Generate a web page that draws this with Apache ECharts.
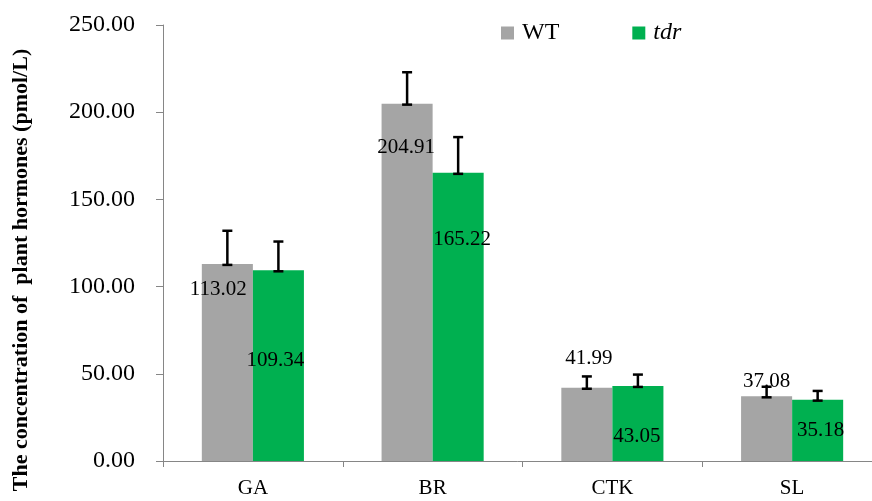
<!DOCTYPE html>
<html>
<head>
<meta charset="utf-8">
<script src="https://cdn.jsdelivr.net/npm/echarts@6/dist/echarts.min.js"></script>
<style>
  html, body { margin: 0; padding: 0; background: #fff; }
  #chart { width: 872px; height: 501px; }
</style>
</head>
<body>
<div id="chart"></div>
<script>
// 数据
const categories = ['GA', 'BR', 'CTK', 'SL'];
const wtValues = [113.02, 204.91, 41.99, 37.08];
const tdrValues = [109.34, 165.22, 43.05, 35.18];
const wtErr = [19, 18, 6.5, 5.5];
const tdrErr = [16.5, 20.5, 6.5, 5];
const yTicks = [0, 50, 100, 150, 200, 250];

// label offsets (style only)
const wtLabelOffset = [[-9, 41], [-1, 59], [2, -14], [0, 1]];
const tdrLabelOffset = [[-3, 106], [4, 82], [-1, 66], [3, 46]];

const FONT = '"Liberation Serif", "Times New Roman", serif';
const BAR_RATIO = 0.284;

const chart = echarts.init(document.getElementById('chart'));

const barData = (vals, offs) => vals.map((v, i) => ({
  value: v,
  label: { offset: offs[i] }
}));

// 误差线
const errSeries = (vals, errs, side, name) => ({
  type: 'custom',
  name: name + '_err',
  z: 5,
  silent: true,
  data: vals.map((v, i) => [i, v, v + errs[i]]),
  encode: { x: 0, y: [1, 2] },
  renderItem: (params, api) => {
    const band = api.size([1, 0])[0];
    const dx = side * band * BAR_RATIO / 2;
    const lo = api.coord([api.value(0), api.value(1)]);
    const hi = api.coord([api.value(0), api.value(2)]);
    const x = lo[0] + dx;
    const cap = 5;
    const style = { stroke: '#000', lineWidth: 2.5 };
    return {
      type: 'group',
      children: [
        { type: 'line', shape: { x1: x, y1: lo[1] + 1, x2: x, y2: hi[1] }, style },
        { type: 'line', shape: { x1: x - cap, y1: hi[1], x2: x + cap, y2: hi[1] }, style },
        { type: 'line', shape: { x1: x - cap, y1: lo[1] + 1, x2: x + cap, y2: lo[1] + 1 }, style }
      ]
    };
  }
});

const option = {
  animation: false,
  backgroundColor: '#fff',
  grid: { left: 163, right: -10, top: 25, bottom: 40, containLabel: false, outerBoundsMode: 'none' },
  graphic: [{
    type: 'text',
    x: 21,
    y: 270,
    rotation: Math.PI / 2,
    style: {
      text: 'The concentration of  plant hormones (pmol/L)',
      font: 'bold 22px ' + FONT,
      fill: '#000',
      align: 'center',
      verticalAlign: 'middle'
    }
  }],
  legend: {
    data: ['WT', 'tdr'],
    left: 501,
    top: 21,
    padding: 0,
    itemWidth: 13,
    itemHeight: 13,
    itemGap: 73,
    icon: 'rect',
    formatter: name => name === 'tdr' ? '{i|tdr}' : name,
    textStyle: {
      fontFamily: FONT,
      fontSize: 24,
      color: '#000',
      padding: [0, 0, 0, 3],
      rich: { i: { fontFamily: FONT, fontSize: 24, fontStyle: 'italic', color: '#000' } }
    }
  },
  xAxis: {
    type: 'category',
    data: categories,
    axisLine: { lineStyle: { color: '#868686', width: 1 } },
    axisTick: { show: true, length: 6, lineStyle: { color: '#868686' } },
    axisLabel: { fontFamily: FONT, fontSize: 21, color: '#000', margin: 17 }
  },
  yAxis: {
    type: 'value',
    min: 0,
    max: 250,
    interval: 50,
    axisLine: { show: true, lineStyle: { color: '#868686', width: 1 } },
    axisTick: { show: true, length: 7, lineStyle: { color: '#868686' } },
    splitLine: { show: false },
    axisLabel: {
      fontFamily: FONT, fontSize: 24, color: '#000', margin: 28,
      formatter: v => yTicks.includes(v) ? v.toFixed(2) : ''
    }
  },
  series: [
    {
      name: 'WT',
      type: 'bar',
      barWidth: (BAR_RATIO * 100) + '%',
      barGap: '0%',
      itemStyle: { color: '#A5A5A5' },
      label: {
        show: true, position: 'top', distance: 5,
        fontFamily: FONT, fontSize: 21, color: '#000',
        formatter: p => p.value.toFixed(2)
      },
      data: barData(wtValues, wtLabelOffset)
    },
    {
      name: 'tdr',
      type: 'bar',
      barWidth: (BAR_RATIO * 100) + '%',
      barGap: '0%',
      itemStyle: { color: '#00B050' },
      label: {
        show: true, position: 'top', distance: 5,
        fontFamily: FONT, fontSize: 21, color: '#000',
        formatter: p => p.value.toFixed(2)
      },
      data: barData(tdrValues, tdrLabelOffset)
    },
    errSeries(wtValues, wtErr, -1, 'WT'),
    errSeries(tdrValues, tdrErr, 1, 'tdr')
  ]
};

chart.setOption(option);
</script>
</body>
</html>
